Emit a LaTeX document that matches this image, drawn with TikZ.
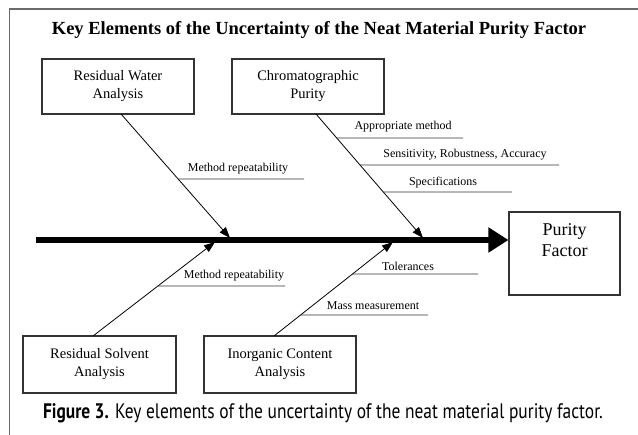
\documentclass[tikz,border=0pt]{standalone}
\usepackage{fontspec}
\setmainfont{Liberation Serif}
\newfontfamily\capfont[FakeStretch=0.83]{PT Sans}
\usetikzlibrary{arrows.meta}
\definecolor{frameg}{HTML}{6A6A6A}
\definecolor{boxg}{HTML}{333333}
\tikzset{
  causebox/.style={draw=boxg, line width=1.1pt, align=center, inner sep=0pt,
    font=\fontsize{14.5}{18}\selectfont},
  bone/.style={line width=0.8pt, -{Triangle[length=11pt,width=8pt]}},
  subline/.style={line width=0.8pt, draw=boxg},
  lbl/.style={font=\fontsize{12}{14}\selectfont, inner sep=0pt},
}
\begin{document}
\begin{tikzpicture}[x=1pt,y=-1pt]
\useasboundingbox (0,0) rectangle (638,435);
% frame
\draw[frameg, line width=1.6pt] (9.5,436) -- (9.5,9) -- (639,9);
% title
\node[font=\fontsize{18.5}{20}\selectfont\bfseries] (title) at (319,30) {Key Elements of the Uncertainty of the Neat Material Purity Factor};
% cause boxes
\node[causebox, minimum width=152pt, minimum height=55pt] (rw) at (118,86.5) {Residual Water\\Analysis};
\node[causebox, minimum width=152pt, minimum height=55pt] (cp) at (308,86.5) {Chromatographic\\Purity};
\node[causebox, minimum width=153pt, minimum height=57pt] (rs) at (99.5,364.5) {Residual Solvent\\Analysis};
\node[causebox, minimum width=152pt, minimum height=57pt] (ic) at (280,364.5) {Inorganic Content\\Analysis};
% effect box
\node[draw=boxg, line width=1.1pt, minimum width=111pt, minimum height=83pt, inner sep=0pt] (pf) at (564.5,253.5) {};
\node[font=\fontsize{18}{21}\selectfont, align=center, inner sep=0pt] (pft) at (564.5,240.5) {Purity\\Factor};
% spine
\coordinate (spine) at (36,240);
\draw[line width=6pt, -{Triangle[length=20pt,width=24pt]}] (spine) -- (spine -| pf.west);
% bone end points
\coordinate (rwb) at (121,114);
\coordinate (cpb) at (316,114);
\coordinate (rsb) at (93,336);
\coordinate (icb) at (274,336);
\coordinate (t1) at (230,238);
\coordinate (t2) at (423,238);
\coordinate (t3) at (215,242);
\coordinate (t4) at (393,242);
\draw[bone] (rwb) -- (t1);
\draw[bone] (cpb) -- (t2);
\draw[bone] (rsb) -- (t3);
\draw[bone] (icb) -- (t4);
% junctions
\path (rwb) -- (t1) coordinate[pos=0.524] (j1);
\path (cpb) -- (t2) coordinate[pos=0.194] (j2) coordinate[pos=0.411] (j3) coordinate[pos=0.629] (j4);
\path (rsb) -- (t3) coordinate[pos=0.532] (j5);
\path (icb) -- (t4) coordinate[pos=0.66] (j6) coordinate[pos=0.223] (j7);
\coordinate (e1) at (304,179);
\coordinate (e2) at (463,138);
\coordinate (e3) at (559,165);
\coordinate (e4) at (512,192);
\coordinate (e5) at (285,286);
\coordinate (e6) at (478,274);
\coordinate (e7) at (428,315);
\draw[subline] (j1) -- (e1);
\draw[subline] (j2) -- (e2);
\draw[subline] (j3) -- (e3);
\draw[subline] (j4) -- (e4);
\draw[subline] (j5) -- (e5);
\draw[subline] (j6) -- (e6);
\draw[subline] (j7) -- (e7);
% labels
\node[lbl] (l1) at (238,169) {Method repeatability};
\node[lbl] (l2) at (403,127) {Appropriate method};
\node[lbl] (l3) at (465,155) {Sensitivity, Robustness, Accuracy};
\node[lbl] (l4) at (443,183) {Specifications};
\node[lbl] (l5) at (234,276) {Method repeatability};
\node[lbl] (l6) at (408,266) {Tolerances};
\node[lbl] (l7) at (373,306) {Mass measurement};
% caption
\node[font=\capfont\fontsize{21}{24}\selectfont, anchor=base, inner sep=0pt] (cap) at (323,419) {\textbf{Figure 3.} Key elements of the uncertainty of the neat material purity factor.};
\end{tikzpicture}
\end{document}
